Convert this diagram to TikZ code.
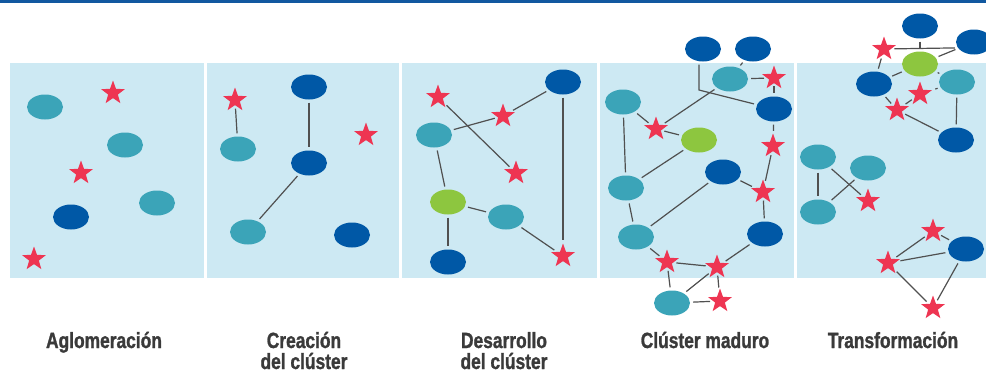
\documentclass[tikz,border=0pt]{standalone}
\usepackage{fontspec}
\setmainfont{Liberation Sans}
\newfontfamily\labfont[FakeStretch=0.79,FakeBold=1.2]{Liberation Sans Bold}
\usetikzlibrary{shapes.geometric}
\definecolor{panelc}{HTML}{CDE9F3}
\definecolor{tealc}{HTML}{3BA4B8}
\definecolor{dbluec}{HTML}{0058A6}
\definecolor{greenc}{HTML}{8DC63F}
\definecolor{starc}{HTML}{EE3552}
\definecolor{linec}{HTML}{505050}
\definecolor{textc}{HTML}{3A3A3A}
\definecolor{barc}{HTML}{1158A0}
\begin{document}
\begin{tikzpicture}[x=1pt,y=-1pt,
 el/.style={ellipse,minimum width=36pt,minimum height=25pt,inner sep=0pt,draw=none},
 tl/.style={el,fill=tealc},
 db/.style={el,fill=dbluec},
 gr/.style={el,fill=greenc},
 rs/.style={star,star points=5,star point ratio=2.45,minimum size=25pt,inner sep=0pt,fill=starc},
 lk/.style={draw=linec,line width=1.2pt,shorten <=3pt,shorten >=3pt},
 lab/.style={font=\labfont\fontsize{22}{22}\selectfont,text=textc,anchor=base,inner sep=0pt},
 panel/.style={fill=panelc,draw=none}]
\useasboundingbox (0,0) rectangle (986,372);
\fill[barc] (0,0) rectangle (986,2.5);
\fill[panel] (10,63) rectangle (204,278);
\fill[panel] (207,63) rectangle (399,278);
\fill[panel] (402,63) rectangle (597,278);
\fill[panel] (600,63) rectangle (794,278);
\fill[panel] (797,63) rectangle (986,278);
% Panel 1
\node[tl] (a1) at (45,107) {};
\node[rs] (a2) at (113,93) {};
\node[tl] (a3) at (125,145) {};
\node[rs] (a4) at (81,173) {};
\node[tl] (a5) at (157,203) {};
\node[db] (a6) at (71,217) {};
\node[rs] (a7) at (34,259) {};
% Panel 2
\node[rs] (b1) at (235,100) {};
\node[tl] (b2) at (238,149) {};
\node[db] (b3) at (309,87) {};
\node[db] (b4) at (309,163) {};
\node[rs] (b5) at (366,135) {};
\node[tl] (b6) at (248,232) {};
\node[db] (b7) at (352,235) {};
\draw[lk] (b1) -- (b2);
\draw[lk] (b3) -- (b4);
\draw[lk] (b4) -- (b6);
% Panel 3
\node[rs] (c1) at (438,97) {};
\node[db] (c2) at (563,82) {};
\node[rs] (c3) at (503,116) {};
\node[tl] (c4) at (434,135) {};
\node[rs] (c5) at (516,173) {};
\node[gr] (c6) at (448,202) {};
\node[tl] (c7) at (506,217) {};
\node[db] (c8) at (448,262) {};
\node[rs] (c9) at (563,256) {};
\draw[lk] (c1) -- (c5);
\draw[lk] (c4) -- (c3);
\draw[lk] (c3) -- (c2);
\draw[lk] (c4) -- (c6);
\draw[lk] (c6) -- (c7);
\draw[lk] (c6) -- (c8);
\draw[lk] (c7) -- (c9);
\draw[lk] (c2) -- (c9);
% Panel 4
\node[db] (d1) at (703,49) {};
\node[db] (d2) at (753,49) {};
\node[tl] (d3) at (730,79) {};
\node[rs] (d4) at (774,78) {};
\node[tl] (d5) at (623,102) {};
\node[db] (d6) at (774,109) {};
\node[rs] (d7) at (656,129) {};
\node[gr] (d8) at (699,140) {};
\node[rs] (d9) at (773,146) {};
\node[db] (d10) at (723,172) {};
\node[tl] (d11) at (626,188) {};
\node[rs] (d12) at (763,192) {};
\node[tl] (d13) at (636,237) {};
\node[db] (d14) at (765,234) {};
\node[rs] (d15) at (667,262) {};
\node[rs] (d16) at (717,267) {};
\node[tl] (d17) at (672,303) {};
\node[rs] (d18) at (720,301) {};
\coordinate (dbend) at (699,90);
\draw[lk] (d1.south -| dbend) -- (dbend) -- (d6);
\draw[lk] (d2) -- (d3);
\draw[lk] (d3) -- (d4);
\draw[lk] (d4) -- (d6);
\draw[lk] (d3) -- (d7);
\draw[lk] (d5) -- (d7);
\draw[lk] (d7) -- (d8);
\draw[lk] (d5) -- (d11);
\draw[lk] (d8) -- (d11);
\draw[lk] (d11) -- (d13);
\draw[lk] (d10) -- (d13);
\draw[lk] (d10) -- (d12);
\draw[lk] (d6) -- (d9);
\draw[lk] (d9) -- (d12);
\draw[lk] (d12) -- (d14);
\draw[lk] (d13) -- (d15);
\draw[lk] (d14) -- (d16);
\draw[lk] (d15) -- (d16);
\draw[lk] (d15) -- (d17);
\draw[lk] (d16) -- (d17);
\draw[lk] (d16) -- (d18);
\draw[lk] (d17) -- (d18);
% Panel 5
\node[db] (e1) at (920,26) {};
\node[db] (e2) at (974,42) {};
\node[rs] (e3) at (884,49) {};
\node[gr] (e4) at (920,64) {};
\node[db] (e5) at (874,84) {};
\node[tl] (e6) at (957,82) {};
\node[rs] (e7) at (920,94) {};
\node[rs] (e8) at (897,110) {};
\node[db] (e9) at (956,140) {};
\node[tl] (e10) at (818,157) {};
\node[tl] (e11) at (868,168) {};
\node[tl] (e12) at (818,212) {};
\node[rs] (e13) at (868,201) {};
\node[rs] (e14) at (933,231) {};
\node[db] (e15) at (966,249) {};
\node[rs] (e16) at (888,263) {};
\node[rs] (e17) at (933,308) {};
\draw[lk] (e1) -- (e4);
\draw[lk] (e3) -- (e2.-160);
\draw[lk] (e4) -- (e2);
\draw[lk] (e3) -- (e5);
\draw[lk] (e5) -- (e4);
\draw[lk] (e4) -- (e6);
\draw[lk] (e6) -- (e7);
\draw[lk] (e7) -- (e8);
\draw[lk] (e5) -- (e8);
\draw[lk] (e8) -- (e9);
\draw[lk] (e6) -- (e9);
\draw[lk] (e10) -- (e12);
\draw[lk] (e10) -- (e13);
\draw[lk] (e12) -- (e11);
\draw[lk] (e14) -- (e15);
\draw[lk] (e16) -- (e14);
\draw[lk] (e16) -- (e15);
\draw[lk] (e16) -- (e17);
\draw[lk] (e15) -- (e17);
% Labels
\node[lab] (t1) at (104,348) {Aglomeración};
\node[lab] (t2a) at (304,348) {Creación};
\node[lab] (t2b) at (304,369) {del clúster};
\node[lab] (t3a) at (504,348) {Desarrollo};
\node[lab] (t3b) at (504,369) {del clúster};
\node[lab] (t4) at (705,348) {Clúster maduro};
\node[lab] (t5) at (893,348) {Transformación};
\end{tikzpicture}
\end{document}
